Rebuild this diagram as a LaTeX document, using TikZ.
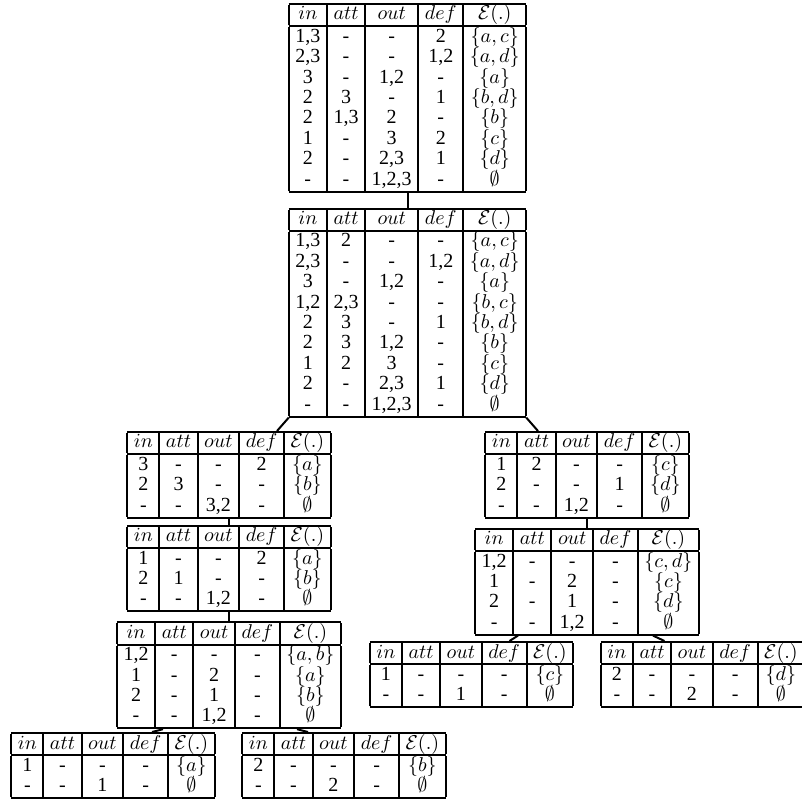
\documentclass[tikz,border=0pt]{standalone}
\usepackage{fontspec}
\setmainfont{Liberation Serif}
\usepackage{tikz}
\usetikzlibrary{positioning}
\renewcommand{\arraystretch}{0.75}
\setlength{\tabcolsep}{3.3pt}
\setlength{\arrayrulewidth}{1pt}
\newcommand{\tabhead}{$in$ & $att$ & $out$ & $def$ & $\mathcal{E}(.)$\\\hline}
\newcommand{\labtab}[1]{\begin{tabular}{|c|c|c|c|c|}\hline\tabhead #1\\\hline\end{tabular}}
\tikzset{
  node-tab/.style={inner sep=0pt,outer sep=0pt,anchor=north,
    font=\fontsize{10}{12}\selectfont},
  edge-tree/.style={line width=1pt,draw=black},
}

\begin{document}
\begin{tikzpicture}[x=0.5pt,y=-0.5pt]
  \useasboundingbox (0,0) rectangle (802,801);
  % root and its refinement
  \node[node-tab] (t1) at (407.5,3) {\labtab{%
    1,3 & - & - & 2 & $\{a,c\}$\\
    2,3 & - & - & 1,2 & $\{a,d\}$\\
    3 & - & 1,2 & - & $\{a\}$\\
    2 & 3 & - & 1 & $\{b,d\}$\\
    2 & 1,3 & 2 & - & $\{b\}$\\
    1 & - & 3 & 2 & $\{c\}$\\
    2 & - & 2,3 & 1 & $\{d\}$\\
    - & - & 1,2,3 & - & $\emptyset$}};
  \node[node-tab,below=7.5pt of t1] (t2) {\labtab{%
    1,3 & 2 & - & - & $\{a,c\}$\\
    2,3 & - & - & 1,2 & $\{a,d\}$\\
    3 & - & 1,2 & - & $\{a\}$\\
    1,2 & 2,3 & - & - & $\{b,c\}$\\
    2 & 3 & - & 1 & $\{b,d\}$\\
    2 & 3 & 1,2 & - & $\{b\}$\\
    1 & 2 & 3 & - & $\{c\}$\\
    2 & - & 2,3 & 1 & $\{d\}$\\
    - & - & 1,2,3 & - & $\emptyset$}};
  % left branch
  \node[node-tab] (tA) at (229,431) {\labtab{%
    3 & - & - & 2 & $\{a\}$\\
    2 & 3 & - & - & $\{b\}$\\
    - & - & 3,2 & - & $\emptyset$}};
  \node[node-tab,below=3pt of tA] (tA2) {\labtab{%
    1 & - & - & 2 & $\{a\}$\\
    2 & 1 & - & - & $\{b\}$\\
    - & - & 1,2 & - & $\emptyset$}};
  \node[node-tab,below=4.5pt of tA2] (tA3) {\labtab{%
    1,2 & - & - & - & $\{a,b\}$\\
    1 & - & 2 & - & $\{a\}$\\
    2 & - & 1 & - & $\{b\}$\\
    - & - & 1,2 & - & $\emptyset$}};
  \node[node-tab] (tL1) at (113,732) {\labtab{%
    1 & - & - & - & $\{a\}$\\
    - & - & 1 & - & $\emptyset$}};
  \node[node-tab] (tL2) at (344,732) {\labtab{%
    2 & - & - & - & $\{b\}$\\
    - & - & 2 & - & $\emptyset$}};
  % right branch
  \node[node-tab] (tB) at (587,431) {\labtab{%
    1 & 2 & - & - & $\{c\}$\\
    2 & - & - & 1 & $\{d\}$\\
    - & - & 1,2 & - & $\emptyset$}};
  \node[node-tab,below=4.5pt of tB] (tC) {\labtab{%
    1,2 & - & - & - & $\{c,d\}$\\
    1 & - & 2 & - & $\{c\}$\\
    2 & - & 1 & - & $\{d\}$\\
    - & - & 1,2 & - & $\emptyset$}};
  \node[node-tab] (tR1) at (471.5,641) {\labtab{%
    1 & - & - & - & $\{c\}$\\
    - & - & 1 & - & $\emptyset$}};
  \node[node-tab] (tR2) at (702.5,641) {\labtab{%
    2 & - & - & - & $\{d\}$\\
    - & - & 2 & - & $\emptyset$}};
  \draw[edge-tree] (t1.south) -- (t2.north);
  \draw[edge-tree] (t2.south west) -- ([xshift=24pt]tA.north);
  \draw[edge-tree] (t2.south east) -- ([xshift=-24.5pt]tB.north);
  \draw[edge-tree] (tA.south) -- (tA2.north);
  \draw[edge-tree] (tA2.south) -- (tA3.north);
  \draw[edge-tree] ([xshift=-33pt]tA3.south) -- ([xshift=19.5pt]tL1.north);
  \draw[edge-tree] ([xshift=34pt]tA3.south) -- ([xshift=-18pt]tL2.north);
  \draw[edge-tree] (tB.south) -- (tC.north);
  \draw[edge-tree] ([xshift=-34.5pt]tC.south) -- ([xshift=19pt]tR1.north);
  \draw[edge-tree] ([xshift=33pt]tC.south) -- ([xshift=-19pt]tR2.north);
\end{tikzpicture}
\end{document}
